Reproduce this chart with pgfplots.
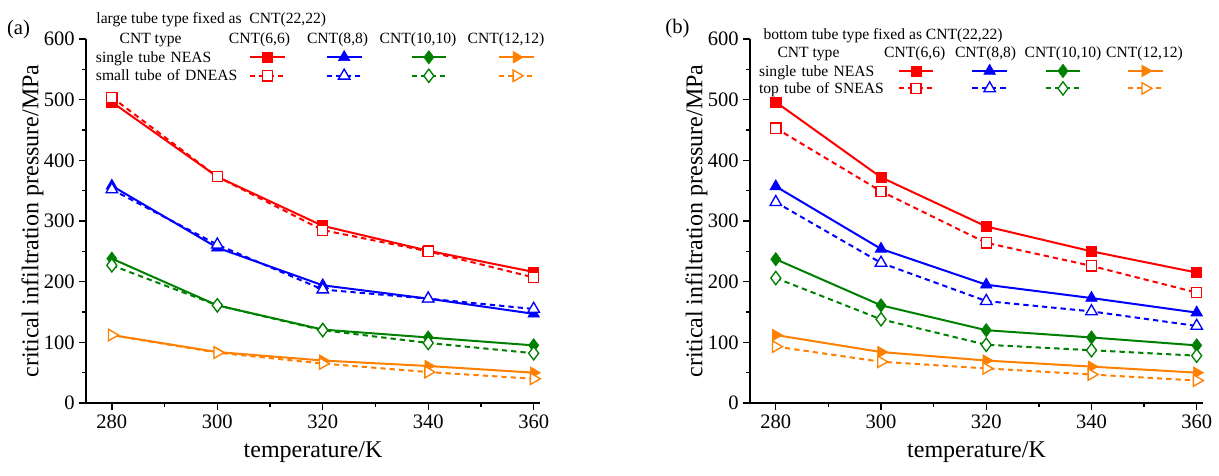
\documentclass[border=0pt]{standalone}
\usepackage{fontspec}
\setmainfont{Liberation Serif}
\usepackage{pgfplots}
\pgfplotsset{compat=1.18}

\definecolor{cred}{RGB}{255,0,0}
\definecolor{cblue}{RGB}{0,0,255}
\definecolor{cgreen}{RGB}{0,128,0}
\definecolor{corange}{RGB}{255,128,0}

% legend sample: short line with one mark in the middle
\pgfplotsset{legend image code/.code={\draw[mark repeat=2,mark phase=2,#1] plot coordinates {(0pt,0pt) (13pt,0pt) (26pt,0pt)};}}

\tikzset{hdr/.style={anchor=base, font=\fontsize{11.7}{13}\selectfont, inner sep=0pt}}

\pgfplotsset{
  cntaxis/.style={
    scale only axis, height=273pt,
    xmin=275.1, xmax=361.2, ymin=0, ymax=600,
    axis x line*=bottom, axis y line*=left,
    axis line style={line width=1.3pt,-},
    xtick={280,300,...,360}, ytick={0,100,...,600},
    minor x tick num=1, minor y tick num=1,
    tick align=outside,
    major tick length=5pt, minor tick length=2.75pt,
    every tick/.style={black, line width=1pt},
    ticklabel style={font=\fontsize{15.4}{16}\selectfont},
    /pgf/number format/assume math mode=true,
    /pgf/number format/1000 sep={},
    label style={font=\fontsize{18}{20}\selectfont},
    xlabel={temperature/K},
    ylabel={critical infiltration pressure/MPa},
    xlabel style={at={(axis description cs:0.5,-0.1346)}, anchor=center},
    ylabel style={at={(axis description cs:-0.118,0.5)}, anchor=center},
    clip=false,
    legend columns=5,
    legend cell align=left,
  },
  sol/.style={line width=1.5pt, mark options={solid, line width=0.5pt}},
  dsh/.style={line width=1.5pt, dash pattern=on 4pt off 3pt, mark options={solid, fill=white, line width=1pt}},
  pr/.style={cred, mark=square*, mark size=3.8pt},
  pb/.style={cblue, mark=triangle*, mark size=5pt},
  pg/.style={cgreen, mark=diamond*, mark size=5pt},
  po/.style={corange, mark=triangle*, mark size=5pt, every mark/.append style={rotate=-90}},
}

\begin{document}
\begin{tikzpicture}
\path[use as bounding box] (-64.5pt,-54pt) rectangle (849.75pt,302.25pt);

% ---------------- (a)
\begin{axis}[cntaxis, at={(0pt,0pt)}, anchor=south west, width=340.5pt,
  legend style={at={(axis description cs:0.0214,0.976)}, anchor=north west,
    draw=none, fill=none, inner sep=0pt, column sep=0pt, row sep=0pt,
    nodes={inner sep=0pt, text height=10.84pt, text depth=3.04pt, font=\fontsize{11.7}{13}\selectfont}},
]
\addplot[forget plot, sol, pr] coordinates {(280,496) (300,373) (320,292) (340,251) (360,216)};
\addplot[forget plot, sol, pb] coordinates {(280,358) (300,256) (320,194) (340,172) (360,147)};
\addplot[forget plot, sol, pg] coordinates {(280,238) (300,161) (320,121) (340,108) (360,95)};
\addplot[forget plot, sol, po] coordinates {(280,112) (300,84) (320,70) (340,61) (360,50)};
\addplot[forget plot, dsh, pr] coordinates {(280,504) (300,373) (320,285) (340,250) (360,207)};
\addplot[forget plot, dsh, pb] coordinates {(280,352) (300,261) (320,187) (340,172) (360,155)};
\addplot[forget plot, dsh, pg] coordinates {(280,227) (300,161) (320,120) (340,99) (360,82)};
\addplot[forget plot, dsh, po] coordinates {(280,112) (300,83) (320,65) (340,51) (360,40)};

\addlegendimage{empty legend}\addlegendentry[text width=114.8pt]{\mbox{single tube NEAS}}
\addlegendimage{sol, pr}\addlegendentry[minimum width=30.1pt]{\mbox{}}
\addlegendimage{sol, pb}\addlegendentry[minimum width=36pt]{\mbox{}}
\addlegendimage{sol, pg}\addlegendentry[minimum width=38.2pt]{\mbox{}}
\addlegendimage{sol, po}\addlegendentry{\mbox{}}
\addlegendimage{empty legend}\addlegendentry[text width=114.8pt]{\mbox{small tube of DNEAS}}
\addlegendimage{dsh, pr}\addlegendentry{\mbox{}}
\addlegendimage{dsh, pb}\addlegendentry{\mbox{}}
\addlegendimage{dsh, pg}\addlegendentry{\mbox{}}
\addlegendimage{dsh, po}\addlegendentry{\mbox{}}

\node[anchor=west, font=\fontsize{11.7}{13}\selectfont] at (axis description cs:0.0126,1.0522) {large tube type fixed as\ \ CNT(22,22)};
\node[hdr] at (axis description cs:0.1423,0.9885) {CNT type};
\node[hdr] at (axis description cs:0.3822,0.9885) {CNT(6,6)};
\node[hdr] at (axis description cs:0.5542,0.9885) {CNT(8,8)};
\node[hdr] at (axis description cs:0.7313,0.9885) {CNT(10,10)};
\node[hdr] at (axis description cs:0.9251,0.9885) {CNT(12,12)};
\node[font=\fontsize{15.5}{17}\selectfont] at (axis description cs:-0.1487,1.0247) {(a)};
\end{axis}

% ---------------- (b)
\begin{axis}[cntaxis, at={(498pt,0pt)}, anchor=south west, width=339.75pt,
  legend style={at={(axis description cs:0.0194,0.937)}, anchor=north west,
    draw=none, fill=none, inner sep=0pt, column sep=0pt, row sep=0pt,
    nodes={inner sep=0pt, text height=10.46pt, text depth=2.66pt, font=\fontsize{11.7}{13}\selectfont}},
]
\addplot[forget plot, sol, pr] coordinates {(280,496) (300,372) (320,291) (340,250) (360,215)};
\addplot[forget plot, sol, pb] coordinates {(280,357) (300,254) (320,195) (340,173) (360,149)};
\addplot[forget plot, sol, pg] coordinates {(280,237) (300,161) (320,120) (340,108) (360,95)};
\addplot[forget plot, sol, po] coordinates {(280,112) (300,84) (320,70) (340,60) (360,50)};
\addplot[forget plot, dsh, pr] coordinates {(280,453) (300,349) (320,264) (340,226) (360,182)};
\addplot[forget plot, dsh, pb] coordinates {(280,331) (300,231) (320,168) (340,151) (360,127)};
\addplot[forget plot, dsh, pg] coordinates {(280,206) (300,138) (320,96) (340,87) (360,78)};
\addplot[forget plot, dsh, po] coordinates {(280,93) (300,68) (320,57) (340,47) (360,37)};

\addlegendimage{empty legend}\addlegendentry[text width=104pt]{\mbox{single tube NEAS}}
\addlegendimage{sol, pr}\addlegendentry[minimum width=27.7pt]{\mbox{}}
\addlegendimage{sol, pb}\addlegendentry[minimum width=27.5pt]{\mbox{}}
\addlegendimage{sol, pg}\addlegendentry[minimum width=34.2pt]{\mbox{}}
\addlegendimage{sol, po}\addlegendentry{\mbox{}}
\addlegendimage{empty legend}\addlegendentry[text width=104pt]{\mbox{top tube of SNEAS}}
\addlegendimage{dsh, pr}\addlegendentry{\mbox{}}
\addlegendimage{dsh, pb}\addlegendentry{\mbox{}}
\addlegendimage{dsh, pg}\addlegendentry{\mbox{}}
\addlegendimage{dsh, po}\addlegendentry{\mbox{}}

\node[anchor=west, font=\fontsize{11.7}{13}\selectfont] at (axis description cs:0.0194,1.0082) {bottom tube type fixed as CNT(22,22)};
\node[hdr] at (axis description cs:0.1291,0.9492) {CNT type};
\node[hdr] at (axis description cs:0.3636,0.9492) {CNT(6,6)};
\node[hdr] at (axis description cs:0.5201,0.9492) {CNT(8,8)};
\node[hdr] at (axis description cs:0.6909,0.9492) {CNT(10,10)};
\node[hdr] at (axis description cs:0.8709,0.9492) {CNT(12,12)};
\node[font=\fontsize{15.5}{17}\selectfont] at (axis description cs:-0.16,1.03) {(b)};
\end{axis}
\end{tikzpicture}
\end{document}
